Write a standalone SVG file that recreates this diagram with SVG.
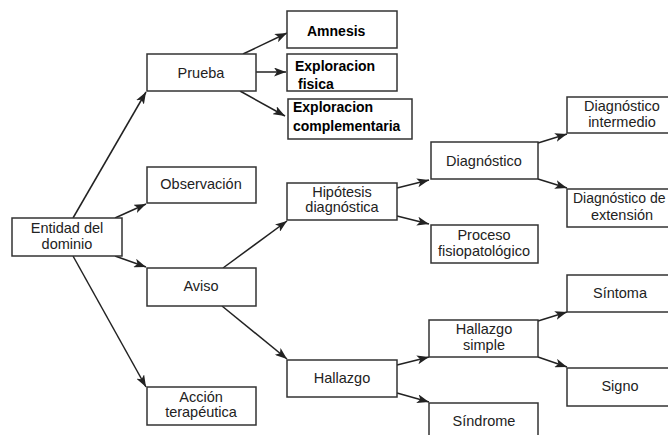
<svg xmlns="http://www.w3.org/2000/svg" width="668" height="435" viewBox="0 0 668 435">
<defs>
<marker id="ah" markerUnits="userSpaceOnUse" markerWidth="13" markerHeight="9" refX="12" refY="4.5" orient="auto">
<path d="M0,0 L12,4.5 L0,9 L3,4.5 z" fill="#222"/>
</marker>
<style>
.b{fill:#fff;stroke:#333;stroke-width:1.5}
.t{font-family:"Liberation Sans",Arial,sans-serif;font-size:14.5px;fill:#222;text-anchor:middle}
.k{font-family:"Liberation Sans",Arial,sans-serif;font-size:14px;font-weight:bold;fill:#000}
.c line{stroke:#222;stroke-width:1.5;marker-end:url(#ah)}
</style>
</defs>
<rect width="668" height="435" fill="#fff"/>
<g class="c" id="connectors">
<line x1="73" y1="218" x2="146" y2="92"/>
<line x1="115" y1="218" x2="146" y2="204"/>
<line x1="115" y1="256" x2="146" y2="267"/>
<line x1="73" y1="256" x2="146" y2="387"/>
<line x1="243" y1="54" x2="287" y2="33"/>
<line x1="256" y1="72" x2="286" y2="72"/>
<line x1="240" y1="91" x2="285" y2="116"/>
<line x1="223" y1="268" x2="287" y2="221"/>
<line x1="222" y1="306" x2="287" y2="359"/>
<line x1="397" y1="188" x2="429" y2="180"/>
<line x1="397" y1="216" x2="429" y2="224"/>
<line x1="538" y1="143" x2="567" y2="134"/>
<line x1="538" y1="179" x2="567" y2="188"/>
<line x1="397" y1="365" x2="429" y2="357"/>
<line x1="397" y1="393" x2="429" y2="402"/>
<line x1="538" y1="321" x2="567" y2="312"/>
<line x1="538" y1="357" x2="567" y2="367"/>
</g>
<g id="entidad"><rect class="b" x="12" y="218" width="110" height="38"/><text class="t" x="67" y="233">Entidad del</text><text class="t" x="67" y="249">dominio</text></g>
<g id="prueba"><rect class="b" x="147" y="54" width="109" height="37"/><text class="t" x="201" y="78">Prueba</text></g>
<g id="observacion"><rect class="b" x="147" y="167" width="109" height="36"/><text class="t" x="201" y="189">Observación</text></g>
<g id="aviso"><rect class="b" x="147" y="268" width="109" height="38"/><text class="t" x="201" y="291">Aviso</text></g>
<g id="accion"><rect class="b" x="147" y="387" width="109" height="38"/><text class="t" x="201" y="402">Acción</text><text class="t" x="201" y="417">terapéutica</text></g>
<g id="amnesis"><rect class="b" x="287" y="11" width="110" height="37"/><text class="k" x="307" y="36">Amnesis</text></g>
<g id="expfisica"><rect class="b" x="287" y="54" width="110" height="37"/><text class="k" x="295" y="71">Exploracion</text><text class="k" x="298" y="89">fisica</text></g>
<g id="expcomp"><rect class="b" x="288" y="99" width="124" height="40"/><text class="k" x="293" y="112">Exploracion</text><text class="k" x="293" y="131">complementaria</text></g>
<g id="hipotesis"><rect class="b" x="287" y="183" width="110" height="37"/><text class="t" x="342" y="197">Hipótesis</text><text class="t" x="342" y="212">diagnóstica</text></g>
<g id="hallazgo"><rect class="b" x="287" y="360" width="110" height="37"/><text class="t" x="342" y="383">Hallazgo</text></g>
<g id="diagnostico"><rect class="b" x="431" y="142" width="107" height="37"/><text class="t" x="484" y="166">Diagnóstico</text></g>
<g id="proceso"><rect class="b" x="431" y="225" width="107" height="38"/><text class="t" x="484" y="240">Proceso</text><text class="t" x="484" y="256">fisiopatológico</text></g>
<g id="hallazgosimple"><rect class="b" x="429" y="320" width="109" height="37"/><text class="t" x="484" y="334">Hallazgo</text><text class="t" x="484" y="350">simple</text></g>
<g id="sindrome"><rect class="b" x="429" y="403" width="109" height="40"/><text class="t" x="484" y="426">Síndrome</text></g>
<g id="dintermedio"><rect class="b" x="567" y="97" width="110" height="36"/><text class="t" x="622" y="111">Diagnóstico</text><text class="t" x="622" y="127">intermedio</text></g>
<g id="dextension"><rect class="b" x="567" y="189" width="110" height="38"/><text class="t" x="573" y="203" style="text-anchor:start;font-size:14px">Diagnóstico de</text><text class="t" x="622" y="220">extensión</text></g>
<g id="sintoma"><rect class="b" x="567" y="275" width="110" height="37"/><text class="t" x="620" y="298">Síntoma</text></g>
<g id="signo"><rect class="b" x="567" y="368" width="110" height="38"/><text class="t" x="620" y="391">Signo</text></g>
</svg>
